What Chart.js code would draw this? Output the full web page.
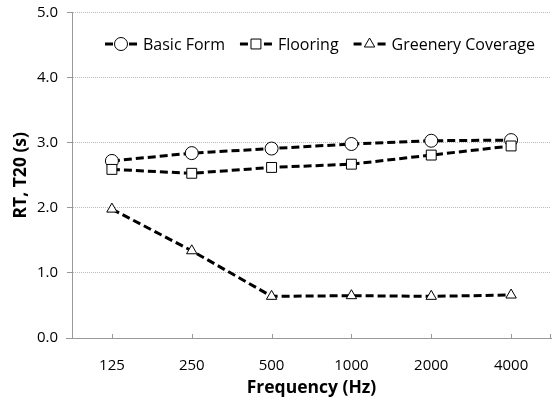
<!DOCTYPE html>
<html>
<head>
<meta charset="utf-8">
<script src="https://cdn.jsdelivr.net/npm/chart.js@4/dist/chart.umd.min.js"></script>
<style>
  html, body { margin: 0; padding: 0; background: #fff; }
  canvas { display: block; }
</style>
</head>
<body>
<canvas id="rtChart" width="554" height="401"></canvas>
<script>
const frequencies = ['125', '250', '500', '1000', '2000', '4000'];
const basicForm = [2.72, 2.84, 2.91, 2.98, 3.03, 3.04];
const flooring = [2.59, 2.53, 2.62, 2.67, 2.81, 2.95];
const greenery = [1.98, 1.34, 0.64, 0.65, 0.64, 0.66];
const seriesNames = ['Basic Form', 'Flooring', 'Greenery Coverage'];

const FONT = "'Open Sans', 'Noto Sans', sans-serif";

function drawMarker(ctx, style, x, y, r) {
    ctx.beginPath();
    if (style === 'circle') {
        ctx.arc(x, y, r, 0, Math.PI * 2);
    } else if (style === 'rect') {
        const s = Math.SQRT1_2 * r;
        ctx.rect(x - s, y - s, 2 * s, 2 * s);
    } else {
        for (let i = 0; i < 3; i++) {
            const a = i * 2 * Math.PI / 3;
            const px = x + Math.sin(a) * r, py = y - Math.cos(a) * r;
            if (i === 0) ctx.moveTo(px, py); else ctx.lineTo(px, py);
        }
        ctx.closePath();
    }
    ctx.fill();
    ctx.stroke();
}

// legend drawn inside the plot, Excel style: -o- label
const insideLegend = {
    id: 'insideLegend',
    afterDatasetsDraw(chart) {
        const ctx = chart.ctx;
        let x = 105;
        const y = 44;
        ctx.save();
        ctx.font = '16px ' + FONT;
        ctx.textBaseline = 'middle';
        chart.data.datasets.forEach(ds => {
            ctx.strokeStyle = '#000';
            ctx.lineWidth = 3;
            ctx.beginPath();
            ctx.moveTo(x, y); ctx.lineTo(x + 8, y);
            ctx.moveTo(x + 24, y); ctx.lineTo(x + 32, y);
            ctx.stroke();
            ctx.lineWidth = 1;
            ctx.fillStyle = '#fff';
            ctx.strokeStyle = '#000';
            drawMarker(ctx, ds.pointStyle, x + 16, y, ds.pointRadius);
            ctx.fillStyle = '#000';
            ctx.fillText(ds.label, x + 38, y + 1);
            x += 38 + ctx.measureText(ds.label).width + 15;
        });
        ctx.restore();
    }
};

// small inward tick marks on the category axis
const innerTicks = {
    id: 'innerTicks',
    afterDraw(chart) {
        const ctx = chart.ctx;
        const xs = chart.scales.x;
        const bottom = chart.chartArea.bottom;
        ctx.save();
        ctx.strokeStyle = '#999';
        ctx.lineWidth = 1;
        ctx.beginPath();
        frequencies.forEach((f, i) => {
            const px = Math.round(xs.getPixelForValue(i)) + 0.5;
            ctx.moveTo(px, bottom);
            ctx.lineTo(px, bottom - 4);
        });
        ctx.moveTo(chart.chartArea.right - 0.5, bottom);
        ctx.lineTo(chart.chartArea.right - 0.5, bottom - 4);
        ctx.moveTo(chart.chartArea.left - 6, bottom + 0.5);
        ctx.lineTo(chart.chartArea.left, bottom + 0.5);
        ctx.stroke();
        ctx.restore();
    }
};

const makeSet = (label, data, style, radius, order) => ({
    label: label,
    data: data,
    borderColor: '#000',
    borderWidth: 3,
    borderDash: [8, 4],
    pointStyle: style,
    pointRadius: radius,
    pointBorderWidth: 1,
    pointBackgroundColor: '#fff',
    pointBorderColor: '#000',
    tension: 0,
    order: order
});

const ctx = document.getElementById('rtChart').getContext('2d');
const rtChart = new Chart(ctx, {
    type: 'line',
    data: {
        labels: frequencies,
        datasets: [
            makeSet(seriesNames[0], basicForm, 'circle', 6.5, 3),
            makeSet(seriesNames[1], flooring, 'rect', 7, 2),
            makeSet(seriesNames[2], greenery, 'triangle', 6, 1)
        ]
    },
    options: {
        responsive: false,
        animation: false,
        devicePixelRatio: 1,
        layout: { autoPadding: false, padding: { top: 12.5, right: 3, left: 0, bottom: 0 } },
        plugins: {
            legend: { display: false },
            tooltip: { enabled: false }
        },
        scales: {
            x: {
                offset: true,
                grid: { display: false },
                border: { color: '#999', width: 1 },
                ticks: { color: '#000', padding: 11, autoSkip: false, maxRotation: 0, font: { family: FONT, size: 15 } },
                title: {
                    display: true,
                    text: 'Frequency (Hz)',
                    color: '#000',
                    font: { family: FONT, size: 17.5, weight: 'bold' },
                    padding: { top: 0, bottom: 2 }
                },
                afterFit(scale) {
                    scale.height = 63;
                    scale.paddingLeft = 0;
                    scale.paddingRight = 0;
                }
            },
            y: {
                min: 0,
                max: 5,
                ticks: {
                    stepSize: 1,
                    color: '#000',
                    padding: 9,
                    font: { family: FONT, size: 15 },
                    callback: v => v.toFixed(1)
                },
                grid: { color: '#bbb', tickColor: '#999', tickLength: 5, lineWidth: 1 },
                border: { color: '#999', width: 1, dash: [1, 1] },
                title: {
                    display: true,
                    text: 'RT, T20 (s)',
                    color: '#000',
                    font: { family: FONT, size: 17.5, weight: 'bold' },
                    padding: { top: 11, bottom: 0 }
                },
                afterFit(scale) {
                    scale.width = 72;
                    scale.paddingTop = 0;
                    scale.paddingBottom = 0;
                }
            }
        }
    },
    plugins: [insideLegend, innerTicks]
});
</script>
</body>
</html>
